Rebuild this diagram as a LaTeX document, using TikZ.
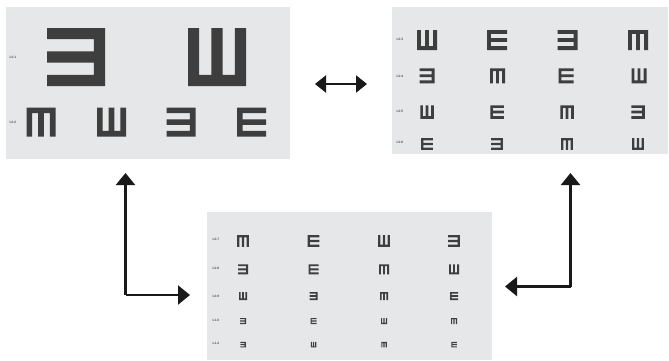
\documentclass[tikz,border=0pt]{standalone}
\usepackage{fontspec}
\setmainfont{Liberation Sans}
\usetikzlibrary{arrows.meta}
\definecolor{panelbg}{RGB}{230,231,233}
\definecolor{optink}{RGB}{62,62,62}
\definecolor{labelgray}{RGB}{85,85,85}
\tikzset{
  panel/.style={fill=panelbg, draw=none, inner sep=0pt, outer sep=0pt, anchor=north west},
  rowlabel/.style={font=\fontsize{3.3}{3.3}\selectfont\bfseries, text=labelgray, inner sep=0pt},
  conn/.style={line width=2.2pt, draw=black!90, -{Triangle[length=12pt,width=19pt]}},
  conn2/.style={line width=2.2pt, draw=black!90, {Triangle[length=11pt,width=17pt]}-{Triangle[length=11pt,width=17pt]}},
}
% tumbling E: #1 x, #2 y, #3 size, #4 rotation (0 = spine left, 180 = spine right, 90 = spine bottom, -90 = spine top)
\newcommand\optoE[4]{%
  \begin{scope}[shift={(#1,#2)}, rotate=#4, scale=#3]
    \fill[optink] (-0.5,-0.5) rectangle (-0.31,0.5)
      (-0.5,-0.5) rectangle (0.5,-0.31)
      (-0.5,-0.095) rectangle (0.5,0.095)
      (-0.5,0.31) rectangle (0.5,0.5);
  \end{scope}}
\begin{document}
\begin{tikzpicture}[x=1pt,y=-1pt]
\useasboundingbox (0,0) rectangle (669,360);
% panels
\node[panel, minimum width=284pt, minimum height=152pt] (leftp) at (6,7) {};
\node[panel, minimum width=276pt, minimum height=147pt] (rightp) at (392,7) {};
\node[panel, minimum width=285pt, minimum height=148pt] (botp) at (207,212) {};

% left panel
\node[rowlabel] (l01) at (13,57) {L0.1};
\node[rowlabel] (l02) at (13,122) {L0.2};
\optoE{76}{57}{58}{180}
\optoE{217}{57}{58}{90}
\optoE{41}{122}{29}{-90}
\optoE{111.5}{122}{29}{90}
\optoE{181}{122}{29}{180}
\optoE{251.5}{122}{29}{0}

% right panel
\node[rowlabel] (l03) at (400,39.5) {L0.3};
\node[rowlabel] (l04) at (400,76) {L0.4};
\node[rowlabel] (l05) at (400,111.5) {L0.5};
\node[rowlabel] (l06) at (400,142.5) {L0.6};
\optoE{427}{40}{20}{90}
\optoE{497}{40}{20}{0}
\optoE{567.5}{40}{20}{180}
\optoE{638}{40}{20}{-90}
\optoE{427}{75.8}{15}{180}
\optoE{497.5}{75.8}{15}{-90}
\optoE{566}{75.8}{15}{0}
\optoE{639}{75.8}{15}{90}
\optoE{427}{112}{13.5}{90}
\optoE{497}{112}{13.5}{0}
\optoE{567}{112}{13.5}{-90}
\optoE{638}{112}{13.5}{180}
\optoE{427}{144}{11.7}{0}
\optoE{497}{144}{11.7}{180}
\optoE{567}{144}{11.7}{-90}
\optoE{638}{144}{11.7}{90}

% bottom panel
\node[rowlabel] (l07) at (216,239.5) {L0.7};
\node[rowlabel] (l08) at (216,268) {L0.8};
\node[rowlabel] (l09) at (216,296) {L0.9};
\node[rowlabel] (l10) at (216,320) {L1.0};
\node[rowlabel] (l12) at (216,343.5) {L1.2};
\optoE{243}{241}{11.7}{-90}
\optoE{313.5}{241}{11.7}{0}
\optoE{384}{241}{11.7}{90}
\optoE{454}{241}{11.7}{180}
\optoE{243}{269.3}{10}{180}
\optoE{313.5}{269.3}{10}{0}
\optoE{384}{269.3}{10}{-90}
\optoE{454}{269.3}{10}{90}
\optoE{243}{296}{8}{90}
\optoE{313.5}{296}{8}{180}
\optoE{384}{296}{8}{-90}
\optoE{454}{296}{8}{0}
\optoE{243}{321}{6}{180}
\optoE{313.5}{321}{6}{0}
\optoE{384}{321}{6}{90}
\optoE{454}{321}{6}{-90}
\optoE{243}{344.7}{5.5}{180}
\optoE{313.5}{344.7}{5.5}{90}
\optoE{384}{344.7}{5.5}{-90}
\optoE{454}{344.7}{5.5}{0}

% connectors
\coordinate (da) at (315,84);
\coordinate (db) at (367,84);
\draw[conn2] (da) -- (db);
\coordinate (lc) at (125.5,295);
\coordinate (lt) at (125.5,173);
\coordinate (le) at (190,295);
\draw[conn] (lc) -- (lt);
\draw[conn] (lc) -- (le);
\coordinate (rc) at (570.5,286.5);
\coordinate (rt) at (570.5,173);
\coordinate (re) at (505,286.5);
\draw[conn] (rc) -- (rt);
\draw[conn] (rc) -- (re);
\end{tikzpicture}
\end{document}
